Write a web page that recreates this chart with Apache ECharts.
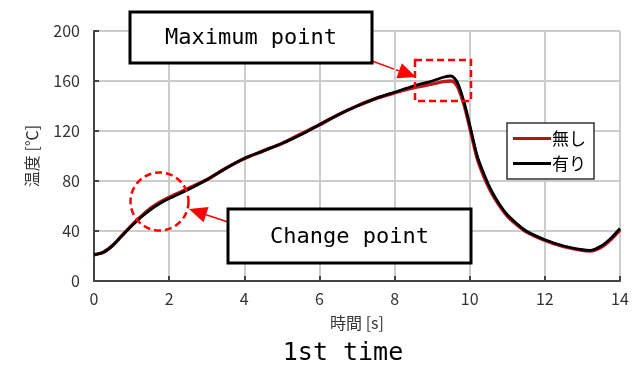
<!DOCTYPE html>
<html>
<head>
<meta charset="utf-8">
<script src="https://cdn.jsdelivr.net/npm/echarts@6/dist/echarts.min.js"></script>
<style>
  html, body { margin: 0; padding: 0; background: #fff; }
  #chart { width: 642px; height: 365px; }
</style>
</head>
<body>
<div id="chart"></div>
<script>
// time [s]
const timeNashi = [0, 0.25, 0.5, 0.75, 1, 1.25, 1.5, 1.75, 2, 2.5, 3, 3.5, 4, 4.5, 5, 5.5, 6, 6.5, 7, 7.5, 8, 8.5, 9, 9.3, 9.5, 9.6, 9.7, 9.85, 10, 10.2, 10.4, 10.6, 10.8, 11, 11.25, 11.5, 12, 12.5, 13, 13.2, 13.5, 13.75, 14]
const tempNashi = [21, 23, 28.5, 36.5, 44.5, 51.5, 58, 63, 67, 74, 81, 90, 98, 104, 110, 117.5, 125, 133, 140, 146, 150.5, 154.5, 157.5, 159.5, 160, 158.5, 154, 141, 123, 98, 82, 69.5, 60, 52, 45, 39.5, 32.5, 27.5, 24.5, 24, 27, 33, 41]
const timeAri = [0, 0.25, 0.5, 0.75, 1, 1.25, 1.5, 1.75, 2, 2.5, 3, 3.5, 4, 4.5, 5, 5.5, 6, 6.5, 7, 7.5, 8, 8.5, 9, 9.3, 9.5, 9.6, 9.7, 9.85, 10, 10.2, 10.4, 10.6, 10.8, 11, 11.25, 11.5, 12, 12.5, 13, 13.2, 13.5, 13.75, 14]
const tempAri = [21, 23, 28.5, 36.5, 44, 51, 57, 62, 66, 73, 81, 90, 98, 104, 110, 117, 125, 133, 140, 146, 151, 156, 160, 163, 164, 162, 157, 143, 125, 100, 84, 71, 61, 53, 46, 40, 33, 28, 25, 24.5, 28, 34, 42]
const xTicks = [0, 2, 4, 6, 8, 10, 12, 14]
const yTicks = [0, 40, 80, 120, 160, 200]
const seriesNames = ["無し", "有り"]

const pairs = (xs, ys) => xs.map((x, i) => [x, ys[i]])

// arrow = line + triangle head pointing at (x2, y2)
const arrow = (x1, y1, x2, y2) => {
  const dx = x2 - x1
  const dy = y2 - y1
  const len = Math.sqrt(dx * dx + dy * dy)
  const ux = dx / len
  const uy = dy / len
  const hl = 18
  const hw = 8
  const bx = x2 - ux * hl
  const by = y2 - uy * hl
  return [
    {
      type: "line",
      shape: { x1: x1, y1: y1, x2: bx, y2: by },
      style: { stroke: "#ff0000", lineWidth: 1.5 },
    },
    {
      type: "polygon",
      shape: { points: [[x2, y2], [bx - uy * hw, by + ux * hw], [bx + uy * hw, by - ux * hw]] },
      style: { fill: "#ff0000" },
    },
  ]
}

const labelBox = (x, y, w, h, text) => [
  {
    type: "rect",
    shape: { x: x, y: y, width: w, height: h },
    style: { fill: "#fff", stroke: "#000", lineWidth: 3 },
    z: 20,
  },
  {
    type: "text",
    x: x + w / 2,
    y: y + h / 2 + 1,
    style: {
      text: text,
      fill: "#000",
      font: "22px 'DejaVu Sans Mono'",
      align: "center",
      verticalAlign: "middle",
    },
    z: 21,
  },
]

const chart = echarts.init(document.getElementById("chart"))
const axisFont = "Noto Sans CJK JP"

const option = {
  animation: false,
  title: {
    text: "1st time",
    left: 338,
    textAlign: "center",
    top: 336,
    textStyle: {
      fontFamily: "DejaVu Sans Mono",
      fontWeight: "normal",
      fontSize: 25,
      color: "#000",
    },
  },
  grid: {
    left: 94,
    right: 22,
    top: 31,
    bottom: 84,
  },
  legend: {
    orient: "vertical",
    left: 507,
    top: 123,
    width: 88,
    padding: [7, 8, 7, 6],
    itemGap: 8,
    itemWidth: 38,
    itemHeight: 3,
    icon: "rect",
    borderColor: "#333",
    borderWidth: 1.5,
    backgroundColor: "#fff",
    data: seriesNames,
    textStyle: {
      fontFamily: axisFont,
      fontSize: 17,
      color: "#000",
      padding: [0, 0, 0, -4],
    },
  },
  xAxis: {
    type: "value",
    min: 0,
    max: 14,
    interval: 2,
    name: "時間 [s]",
    nameLocation: "middle",
    nameGap: 34,
    nameTextStyle: {
      fontFamily: axisFont,
      fontSize: 16,
      color: "#333",
    },
    axisLine: { show: true, lineStyle: { color: "#444", width: 2 } },
    axisTick: { show: true, inside: true, length: 5, lineStyle: { color: "#444", width: 2 } },
    axisLabel: {
      fontFamily: axisFont,
      fontSize: 16,
      color: "#333",
      margin: 10,
      customValues: xTicks,
    },
    splitLine: { show: true, lineStyle: { color: "#cccccc", width: 2 } },
  },
  yAxis: {
    type: "value",
    min: 0,
    max: 200,
    interval: 40,
    name: "温度 [℃]",
    nameLocation: "middle",
    nameGap: 54,
    nameRotate: 90,
    nameTextStyle: {
      fontFamily: axisFont,
      fontSize: 16,
      color: "#333",
    },
    axisLine: { show: true, lineStyle: { color: "#444", width: 2 } },
    axisTick: { show: true, inside: true, length: 5, lineStyle: { color: "#444", width: 2 } },
    axisLabel: {
      fontFamily: axisFont,
      fontSize: 16,
      color: "#333",
      margin: 14,
      customValues: yTicks,
    },
    splitLine: { show: true, lineStyle: { color: "#cccccc", width: 2 } },
  },
  series: [
    {
      name: seriesNames[0],
      type: "line",
      smooth: 0.3,
      symbol: "none",
      lineStyle: { color: "#c8141c", width: 3.5 },
      itemStyle: { color: "#b01418" },
      data: pairs(timeNashi, tempNashi),
      z: 2,
    },
    {
      name: seriesNames[1],
      type: "line",
      smooth: 0.3,
      symbol: "none",
      lineStyle: { color: "#000", width: 2.8 },
      itemStyle: { color: "#000" },
      data: pairs(timeAri, tempAri),
      z: 3,
    },
  ],
  graphic: [
    {
      type: "circle",
      shape: { cx: 159.5, cy: 201.5, r: 29 },
      style: { fill: null, stroke: "#ff0000", lineWidth: 2.5, lineDash: [7, 4] },
      z: 10,
    },
    {
      type: "rect",
      shape: { x: 415, y: 60, width: 56, height: 41 },
      style: { fill: null, stroke: "#ff0000", lineWidth: 2.5, lineDash: [7, 4] },
      z: 10,
    },
    ...arrow(372, 61, 416, 77),
    ...arrow(228, 222, 189, 209),
    ...labelBox(130, 12, 242, 51, "Maximum point"),
    ...labelBox(228, 209, 243, 54, "Change point"),
  ],
}
chart.setOption(option)
</script>
</body>
</html>
